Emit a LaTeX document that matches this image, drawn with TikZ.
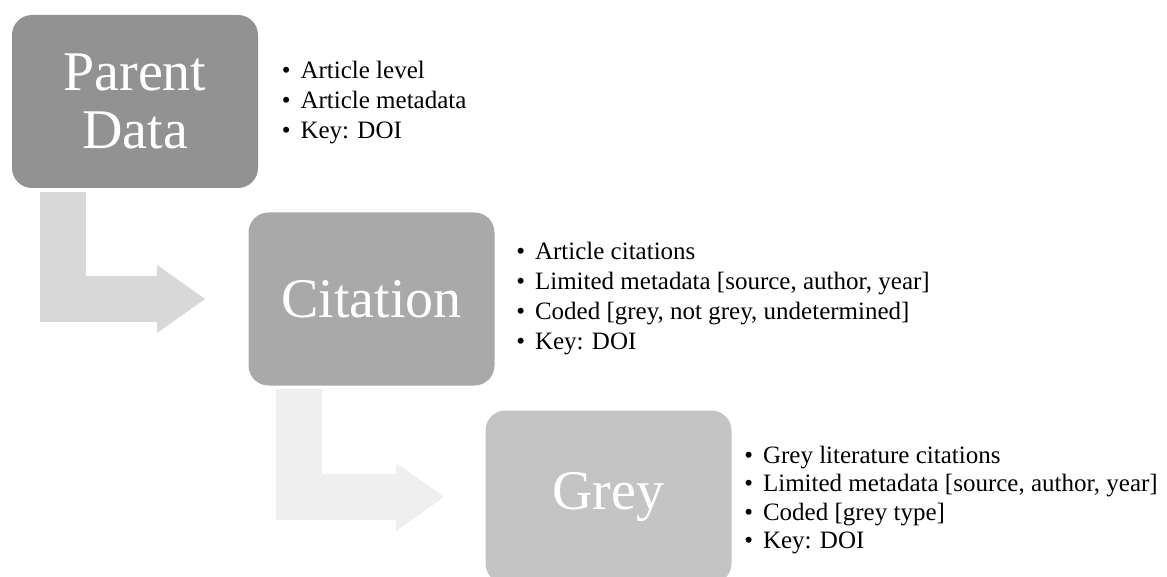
\documentclass[tikz,border=0pt]{standalone}
\usepackage{fontspec}
\setmainfont{Liberation Serif}
\usetikzlibrary{positioning}
\usetikzlibrary{arrows.meta}
\definecolor{fillparent}{RGB}{146,146,146}
\definecolor{fillcite}{RGB}{169,169,169}
\definecolor{fillgrey}{RGB}{196,196,196}
\definecolor{arrowone}{RGB}{216,216,216}
\definecolor{arrowtwo}{RGB}{239,239,239}

\begin{document}
\begin{tikzpicture}[x=0.5pt,y=-0.5pt,
   box/.style={rectangle,rounded corners=10pt,minimum width=123pt,minimum height=86.5pt,
     inner sep=0pt,text=white,align=center,font=\fontsize{28}{29}\selectfont},
   items/.style={inner sep=0pt,align=left,font=\fontsize{12.5}{15}\selectfont},
   flow/.style={line width=23pt,-{Triangle[length=24pt,width=34pt,line width=0pt]}}]
   \useasboundingbox (0,0) rectangle (1167,577);
   \clip (0,0) rectangle (1167,577);
   \node[box,fill=fillparent] (n_parent) at (135,101.5) {Parent\\Data};
   \node[box,fill=fillcite,on grid] (n_cite) [below right=98.75pt and 118.25pt of n_parent] {Citation};
   \node[box,fill=fillgrey,on grid] (n_grey) [below right=99pt and 118.5pt of n_cite] {Grey};
   \node[items] (l_parent) [right=11.5pt of n_parent,yshift=-0.75pt]
     {\textbullet\hspace{5pt}Article level\\
      \textbullet\hspace{5pt}Article metadata\\
      \textbullet\hspace{5pt}Key: DOI};
   \node[items] (l_cite) [right=10.5pt of n_cite]
     {\textbullet\hspace{5pt}Article citations\\
      \textbullet\hspace{5pt}Limited metadata [source, author, year]\\
      \textbullet\hspace{5pt}Coded [grey, not grey, undetermined]\\
      \textbullet\hspace{5pt}Key: DOI};
   \node[items,font=\fontsize{12.5}{14.2}\selectfont] (l_grey) [right=6pt of n_grey,yshift=-1.5pt]
     {\textbullet\hspace{5pt}Grey literature citations\\
      \textbullet\hspace{5pt}Limited metadata [source, author, year]\\
      \textbullet\hspace{5pt}Coded [grey type]\\
      \textbullet\hspace{5pt}Key: DOI};
    % L-shaped arrows between the levels
    \draw[flow,draw=arrowone,shorten <=2pt,shorten >=21.5pt]
      ([xshift=25.75pt]n_parent.south west) |- (n_cite.west);
    \draw[flow,draw=arrowtwo,shorten <=1.5pt,shorten >=20.5pt]
      ([xshift=25.5pt]n_cite.south west) |- (n_grey.west);
\end{tikzpicture}
\end{document}
